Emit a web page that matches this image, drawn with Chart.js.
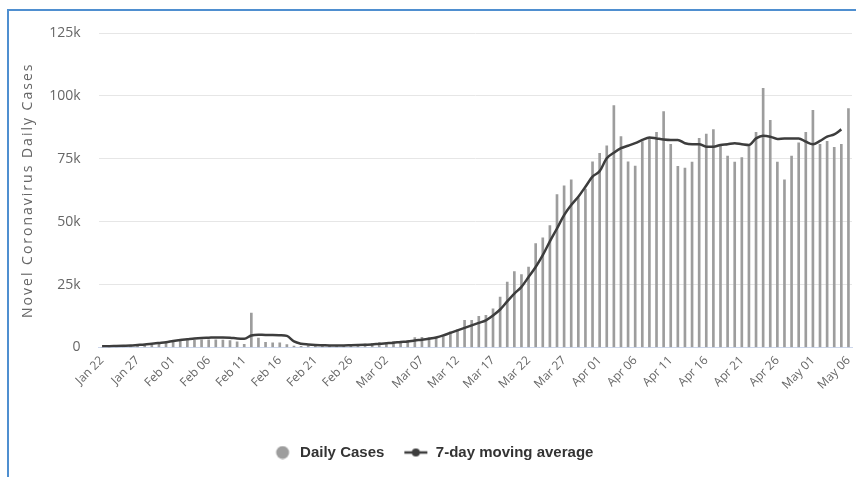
<!DOCTYPE html>
<html>
<head>
<meta charset="utf-8">
<script src="https://cdn.jsdelivr.net/npm/chart.js@4.4.1/dist/chart.umd.min.js"></script>
<style>
  html, body { margin: 0; padding: 0; background: #fff; }
  #wrap { position: relative; width: 856px; height: 477px; overflow: hidden; }
  #wrap canvas { position: absolute; left: 0; top: 0; }
  .frame { position: absolute; background: #4f8fd0; }
  #frameLeft { left: 7px; top: 9px; width: 2px; height: 468px; }
  #frameTop { left: 7px; top: 9px; width: 849px; height: 2px; }
</style>
</head>
<body>
<div id="wrap">
  <canvas id="chart" width="856" height="477"></canvas>
  <div class="frame" id="frameLeft"></div>
  <div class="frame" id="frameTop"></div>
</div>
<script>
// categories
const dates = [
  'Jan 22','Jan 23','Jan 24','Jan 25','Jan 26','Jan 27','Jan 28','Jan 29','Jan 30','Jan 31',
  'Feb 01','Feb 02','Feb 03','Feb 04','Feb 05','Feb 06','Feb 07','Feb 08','Feb 09','Feb 10',
  'Feb 11','Feb 12','Feb 13','Feb 14','Feb 15','Feb 16','Feb 17','Feb 18','Feb 19','Feb 20',
  'Feb 21','Feb 22','Feb 23','Feb 24','Feb 25','Feb 26','Feb 27','Feb 28','Feb 29',
  'Mar 01','Mar 02','Mar 03','Mar 04','Mar 05','Mar 06','Mar 07','Mar 08','Mar 09','Mar 10',
  'Mar 11','Mar 12','Mar 13','Mar 14','Mar 15','Mar 16','Mar 17','Mar 18','Mar 19','Mar 20',
  'Mar 21','Mar 22','Mar 23','Mar 24','Mar 25','Mar 26','Mar 27','Mar 28','Mar 29','Mar 30','Mar 31',
  'Apr 01','Apr 02','Apr 03','Apr 04','Apr 05','Apr 06','Apr 07','Apr 08','Apr 09','Apr 10',
  'Apr 11','Apr 12','Apr 13','Apr 14','Apr 15','Apr 16','Apr 17','Apr 18','Apr 19','Apr 20',
  'Apr 21','Apr 22','Apr 23','Apr 24','Apr 25','Apr 26','Apr 27','Apr 28','Apr 29','Apr 30',
  'May 01','May 02','May 03','May 04','May 05','May 06'
];

// daily new cases
const dailyCases = [
  0, 100, 300, 500, 700, 800, 1200, 1000, 1700, 2000,
  2200, 2500, 2800, 2900, 3000, 3000, 3000, 2900, 2800, 2300,
  1300, 13700, 3700, 2100, 1900, 1900, 1200, 600, 500, 700,
  900, 800, 500, 700, 900, 1000, 1200, 1400, 1700,
  1900, 1800, 2400, 2300, 2800, 3900, 4000, 3900, 4000, 4700,
  6200, 7000, 10800, 10800, 12400, 12800, 15400, 20000, 26000, 30200,
  29000, 32000, 41300, 43600, 48500, 60800, 64300, 66600, 59500, 63000, 73800,
  77200, 80200, 96200, 83800, 73800, 72100, 81800, 83300, 85500, 93800,
  80800, 72000, 71300, 73700, 83100, 84800, 86600, 80800, 76100, 73700,
  75500, 80400, 85500, 103000, 90300, 73700, 66600, 76100, 81300, 85500,
  94300, 80800, 81900, 79600, 80800, 95000
];

// 7-day moving average (last day not drawn)
const movingAvg = [
  500, 500, 600, 700, 800, 1000, 1200, 1500, 1800, 2100,
  2600, 3000, 3300, 3600, 3800, 3900, 4000, 4000, 3900, 3600,
  3500, 4800, 5100, 5000, 5000, 4900, 4600, 2400, 1500, 1200,
  1000, 900, 800, 800, 800, 900, 1000, 1100, 1200,
  1500, 1700, 1900, 2200, 2400, 2800, 3100, 3500, 4000, 4800,
  5800, 6800, 7800, 8800, 9800, 10800, 12700, 15100, 18300, 21400,
  24100, 28000, 32000, 36700, 42200, 47300, 52600, 56600, 59900, 63900, 67900,
  70100, 75200, 77400, 79200, 80200, 81200, 82500, 83500, 83100, 82700,
  82500, 82500, 81200, 80800, 80800, 79800, 79800, 80500, 80800, 81200,
  80800, 80500, 83100, 84200, 83800, 82900, 83100, 83100, 83100, 81800,
  80800, 82100, 83800, 84700, 86700, null
];

const yTicks = [0, 25000, 50000, 75000, 100000, 125000];
const yAxisTitle = 'Novel Coronavirus Daily Cases';
const seriesNames = ['Daily Cases', '7-day moving average'];

Chart.defaults.font.family = "'Open Sans', sans-serif";

function legendImg(kind) {
  const c = document.createElement('canvas');
  c.width = 34; c.height = 14;
  const g = c.getContext('2d');
  if (kind === 'circle') {
    g.fillStyle = '#9d9d9d';
    g.beginPath(); g.arc(24, 7, 6.5, 0, Math.PI * 2); g.fill();
  } else {
    g.strokeStyle = '#3d3d3d'; g.lineWidth = 2.5;
    g.beginPath(); g.moveTo(10, 7); g.lineTo(33, 7); g.stroke();
    g.fillStyle = '#3d3d3d';
    g.beginPath(); g.arc(21.5, 7, 4, 0, Math.PI * 2); g.fill();
  }
  return c;
}

const yTitlePlugin = {
  id: 'yTitle',
  afterDraw(chart) {
    const { ctx, chartArea } = chart;
    ctx.save();
    ctx.translate(28, (chartArea.top + chartArea.bottom) / 2);
    ctx.rotate(-Math.PI / 2);
    ctx.font = "14px 'Open Sans'";
    ctx.letterSpacing = '2px';
    ctx.fillStyle = '#666';
    ctx.textAlign = 'center';
    ctx.textBaseline = 'middle';
    ctx.fillText(yAxisTitle, 0, 0);
    ctx.restore();
  }
};

const imgs = [legendImg('circle'), legendImg('line')];

new Chart(document.getElementById('chart'), {
  type: 'bar',
  data: {
    labels: dates,
    datasets: [
      { type: 'bar', label: seriesNames[0], data: dailyCases, backgroundColor: '#9d9d9d',
        barThickness: 2, order: 2 },
      { type: 'line', label: seriesNames[1], data: movingAvg, borderColor: '#3d3d3d',
        borderWidth: 2.5, pointRadius: 0, cubicInterpolationMode: 'monotone', fill: false, order: 1 }
    ]
  },
  options: {
    responsive: false,
    animation: false,
    layout: { padding: { top: 33, right: 4, bottom: 7, left: 0 } },
    plugins: {
      tooltip: { enabled: false },
      legend: {
        position: 'bottom',
        labels: {
          usePointStyle: true,
          pointStyleWidth: 34,
          padding: 10,
          color: '#333',
          font: { size: 15, weight: 'bold', family: "'Liberation Sans', sans-serif" },
          generateLabels: () => seriesNames.map((t, i) => ({
            text: t, pointStyle: imgs[i], fillStyle: 'transparent', strokeStyle: 'transparent',
            lineWidth: 0, hidden: false, datasetIndex: i, fontColor: '#333'
          }))
        }
      }
    },
    scales: {
      x: {
        offset: true,
        grid: { display: false, drawTicks: false },
        border: { color: '#ccd6eb', width: 1 },
        ticks: {
          autoSkip: false, minRotation: 45, maxRotation: 45, padding: 6,
          color: '#666', font: { size: 12 },
          callback: (v, i) => (i % 5 === 0 ? dates[i] : '')
        },
        afterFit: s => { s.height = 87.5; s.paddingLeft = 0; s.paddingRight = 0; }
      },
      y: {
        min: 0, max: 125000,
        grid: { color: '#e6e6e6', drawTicks: false },
        border: { display: false },
        ticks: {
          padding: 18, color: '#666', font: { size: 14 },
          callback: v => (v === 0 ? '0' : v / 1000 + 'k')
        },
        afterBuildTicks: s => { s.ticks = yTicks.map(v => ({ value: v })); },
        afterFit: s => { s.width = 98.5; }
      }
    }
  },
  plugins: [yTitlePlugin]
});
</script>
</body>
</html>
